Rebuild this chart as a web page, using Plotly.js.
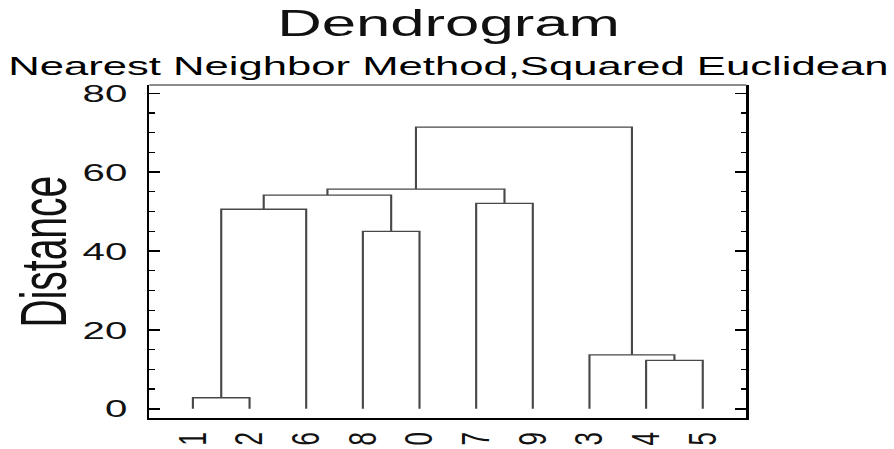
<!DOCTYPE html>
<html>
<head>
<meta charset="utf-8">
<script src="https://cdn.plot.ly/plotly-3.0.1.min.js"></script>
<style>
  html, body { margin: 0; padding: 0; background: #fff; overflow: hidden; }
  /* the source picture is stretched sideways, so draw narrow and scale */
  #chart { width: 545px; height: 449px; transform: scaleX(1.6404); transform-origin: 0 0; }
</style>
</head>
<body>
<div id="chart"></div>
<script>
// observations 0..9, merges in order (nearest neighbor, squared euclidean)
const mergeLeft  = [1, 4, 3,  8, 10, 7, 14, 16, 17];
const mergeRight = [2, 5, 11, 0, 6,  9, 13, 15, 12];
const mergeDist  = [2.8, 12.3, 13.7, 45.0, 50.6, 52.1, 54.2, 55.7, 71.4];
const nObs = 10;
const yTicks = [0, 20, 40, 60, 80];

// leaf order from walking the tree
function leaves(id) {
  if (id < nObs) return [id];
  const k = id - nObs;
  return leaves(mergeLeft[k]).concat(leaves(mergeRight[k]));
}
const rootId = nObs + mergeDist.length - 1;
const leafOrder = leaves(rootId);
const leafLabels = leafOrder.map(String);

const pos = {}, hgt = {};
leafOrder.forEach((id, i) => { pos[id] = i; hgt[id] = 0; });

const xs = [], ys = [];
mergeDist.forEach((d, k) => {
  const a = mergeLeft[k], b = mergeRight[k], id = nObs + k;
  xs.push(pos[a], pos[a], pos[b], pos[b], null);
  ys.push(hgt[a], d, d, hgt[b], null);
  pos[id] = (pos[a] + pos[b]) / 2;
  hgt[id] = d;
});

const font = 'Liberation Sans, Arial, sans-serif';

const data = [{
  x: xs, y: ys, type: 'scatter', mode: 'lines',
  line: { color: '#484848', width: 1.3 },
  hoverinfo: 'skip', showlegend: false
}];

const layout = {
  width: 545, height: 449,
  margin: { l: 91, r: 90, t: 85, b: 31 },
  paper_bgcolor: '#fff', plot_bgcolor: '#fff',
  font: { family: font, color: '#111' },
  xaxis: {
    range: [-0.77, 9.77],
    tickvals: leafOrder.map((_, i) => i), ticktext: leafLabels,
    tickangle: -90, tickfont: { size: 24 },
    ticks: '', showgrid: false, zeroline: false,
    showline: true, linecolor: '#000', linewidth: 1.5,
    ticklabelstandoff: 3
  },
  yaxis: {
    range: [-2.33, 82.1],
    tickvals: yTicks, tickfont: { size: 24.5 },
    ticks: 'inside', ticklen: 6.7, tickwidth: 1.5, tickcolor: '#000',
    minor: { dtick: 5, ticks: 'inside', ticklen: 3.2, tickwidth: 1.2, tickcolor: '#000' },
    showgrid: false, zeroline: false,
    showline: true, mirror: 'ticks', linecolor: '#000', linewidth: 1.5,
    ticklabelstandoff: 7
  },
  shapes: [{
    type: 'line', xref: 'paper', yref: 'paper', x0: 0, x1: 1, y0: 1, y1: 1,
    line: { color: '#666', width: 1.5 }
  }],
  annotations: [
    { text: 'Dendrogram', xref: 'paper', yref: 'paper', x: 0.5, y: 1, yshift: 62,
      xanchor: 'center', yanchor: 'middle', showarrow: false, font: { size: 37.6 } },
    { text: 'Nearest Neighbor Method,Squared Euclidean', xref: 'paper', yref: 'paper',
      x: 0.5, y: 1, yshift: 19, xanchor: 'center', yanchor: 'middle', showarrow: false,
      font: { size: 26.6, color: '#000' } },
    { text: 'Distance', xref: 'paper', yref: 'paper', x: 0, y: 0.5, xshift: -64,
      xanchor: 'center', yanchor: 'middle', textangle: -90, showarrow: false,
      font: { size: 39 } }
  ]
};

Plotly.newPlot('chart', data, layout, { displayModeBar: false, staticPlot: true });
</script>
</body>
</html>
